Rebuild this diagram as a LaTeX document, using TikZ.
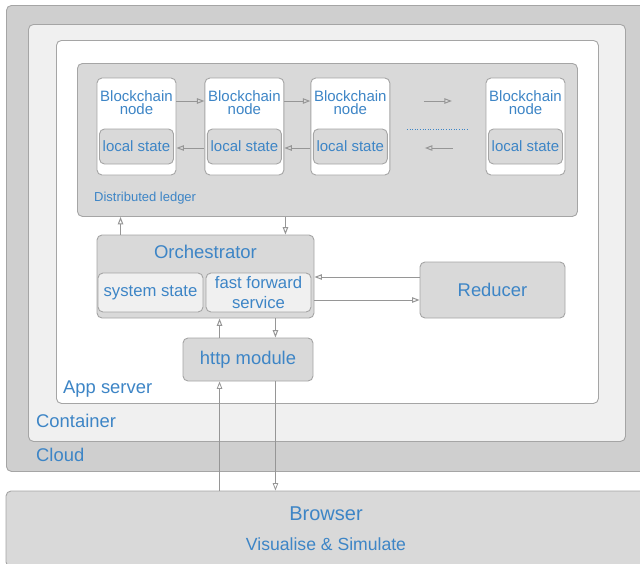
\documentclass[tikz,border=0pt]{standalone}
\usepackage{fontspec}
\setmainfont{Liberation Sans}
\usetikzlibrary{arrows.meta, positioning, calc}
\definecolor{txtblue}{RGB}{61,133,198}
\definecolor{edgegray}{RGB}{165,165,165}
\definecolor{boxgray}{RGB}{217,217,217}
\definecolor{cloudgray}{RGB}{207,207,207}
\definecolor{palegray}{RGB}{240,240,240}
\definecolor{linegray}{RGB}{150,150,150}

\begin{document}
\begin{tikzpicture}[
    x=1pt, y=-1pt,
    >={Triangle[open, length=7.5pt, width=5.5pt]},
    base/.style={draw=edgegray, line width=0.9pt, rounded corners=5pt, inner sep=0pt, text=txtblue, align=center},
    region/.style={base, anchor=north west},
    chainnode/.style={base, fill=white, minimum width=79pt, minimum height=97pt},
    chaintitle/.style={text=txtblue, inner sep=0pt, align=center, font=\fontsize{15}{12.5}\selectfont},
    statebox/.style={base, fill=boxgray, minimum width=74pt, minimum height=35pt, font=\fontsize{15}{15}\selectfont},
    process/.style={base, fill=boxgray, font=\fontsize{18.4}{18}\selectfont},
    subbox/.style={base, fill=palegray, minimum width=105pt, minimum height=39pt, font=\fontsize{16.7}{19.5}\selectfont},
    caption/.style={text=txtblue, inner sep=0pt, anchor=west, font=\fontsize{18.4}{18}\selectfont},
    arrow/.style={->, line width=1pt, linegray}
  ]
    \useasboundingbox (0,0) rectangle (640,563);
    \node[region, fill=cloudgray, minimum width=660pt, minimum height=466pt] (cloud) at (6,5) {};
    \node[region, fill=palegray, minimum width=597pt, minimum height=417pt] (container) at (28,24) {};
    \node[region, fill=white, minimum width=542pt, minimum height=363pt] (appserver) at (56,40) {};
    \node[region, fill=boxgray, minimum width=500pt, minimum height=153pt] (ledger) at (77,63) {};

    \node[chainnode] (bc1) at (136.5,126.5) {};
    \node[chainnode, right=28pt of bc1] (bc2) {};
    \node[chainnode, right=26pt of bc2] (bc3) {};
    \node[chainnode] (bc4) at (525.5,126.5) {};
    \foreach \n in {bc1,bc2,bc3,bc4}{
      \node[chaintitle] at ([yshift=-25pt]\n.north) {Blockchain\\node};
      \node[statebox, above=11pt of \n.south] (\n-st) {local state};
    }
    \draw[arrow] ([yshift=25.5pt]bc1.east) -- ([yshift=25.5pt]bc2.west);
    \draw[arrow] ([yshift=25.5pt]bc2.east) -- ([yshift=25.5pt]bc3.west);
    \draw[arrow] ([yshift=-21.5pt]bc2.west) -- ([yshift=-21.5pt]bc1.east);
    \draw[arrow] ([yshift=-21.5pt]bc3.west) -- ([yshift=-21.5pt]bc2.east);
    \coordinate (gap) at ($(bc3.east)!0.5!(bc4.west)$);
    \draw[arrow] ([shift={(-14,-25.5)}]gap) -- ([shift={(14,-25.5)}]gap);
    \draw[arrow] ([shift={(15,21.5)}]gap) -- ([shift={(-13,21.5)}]gap);
    \draw[txtblue, line width=0.8pt, dash pattern=on 1pt off 1.6pt] ([shift={(-31,2.5)}]gap) -- ([shift={(31,2.5)}]gap);
    \node[caption, font=\fontsize{13}{13}\selectfont] (ledgerlbl) at (94,198) {Distributed ledger};

    \node[process, minimum width=217pt, minimum height=83pt] (orch) at (205.5,276.5) {};
    \node[text=txtblue, inner sep=0pt, font=\fontsize{18.5}{18}\selectfont] (orchlbl) at ([yshift=-17pt]orch.north) {Orchestrator};
    \node[subbox] (sysstate) at (150.5,292.5) {system state};
    \node[subbox] (ffwd) at (258.5,292.5) {fast forward\\service};
    \node[process, minimum width=145pt, minimum height=56pt] (reducer) at (492.5,290) {Reducer};
    \node[process, minimum width=130pt, minimum height=43pt] (http) at (248,359.5) {http module};
    \node[process, minimum width=640pt, minimum height=76pt] (browser) at (326,529) {};
    \node[text=txtblue, inner sep=0pt, font=\fontsize{20}{20}\selectfont] (browserlbl) at ([yshift=15pt]browser.center) {Browser};
    \node[text=txtblue, inner sep=0pt, font=\fontsize{17.6}{18}\selectfont] (browsersub) at ([yshift=-15pt]browser.center) {Visualise \& Simulate};

    \node[caption] (applbl) at (63,389) {App server};
    \node[caption] (contlbl) at (36,420.5) {Container};
    \node[caption] (cloudlbl) at (36,454.5) {Cloud};

    \coordinate (o1) at ([xshift=24pt]orch.north west);
    \coordinate (o2) at ([xshift=-29pt]orch.north east);
    \draw[arrow] (o1) -- (o1 |- ledger.south);
    \draw[arrow] (o2 |- ledger.south) -- (o2);
    \coordinate (r1) at ([yshift=13pt]reducer.west);
    \coordinate (r2) at ([yshift=-10pt]reducer.west);
    \draw[arrow] (r1) -- (r1 -| orch.east);
    \draw[arrow] (r2 -| orch.east) -- (r2);
    \coordinate (h1) at ([xshift=37pt]http.north west);
    \coordinate (h2) at ([xshift=-38pt]http.north east);
    \draw[arrow] (h1) -- (h1 |- orch.south);
    \draw[arrow] (h2 |- orch.south) -- (h2);
    \draw[arrow, line width=0.8pt] (h1 |- browser.north) -- (h1 |- http.south);
    \draw[arrow, line width=0.8pt] (h2 |- http.south) -- (h2 |- browser.north);
  \end{tikzpicture}
\end{document}
